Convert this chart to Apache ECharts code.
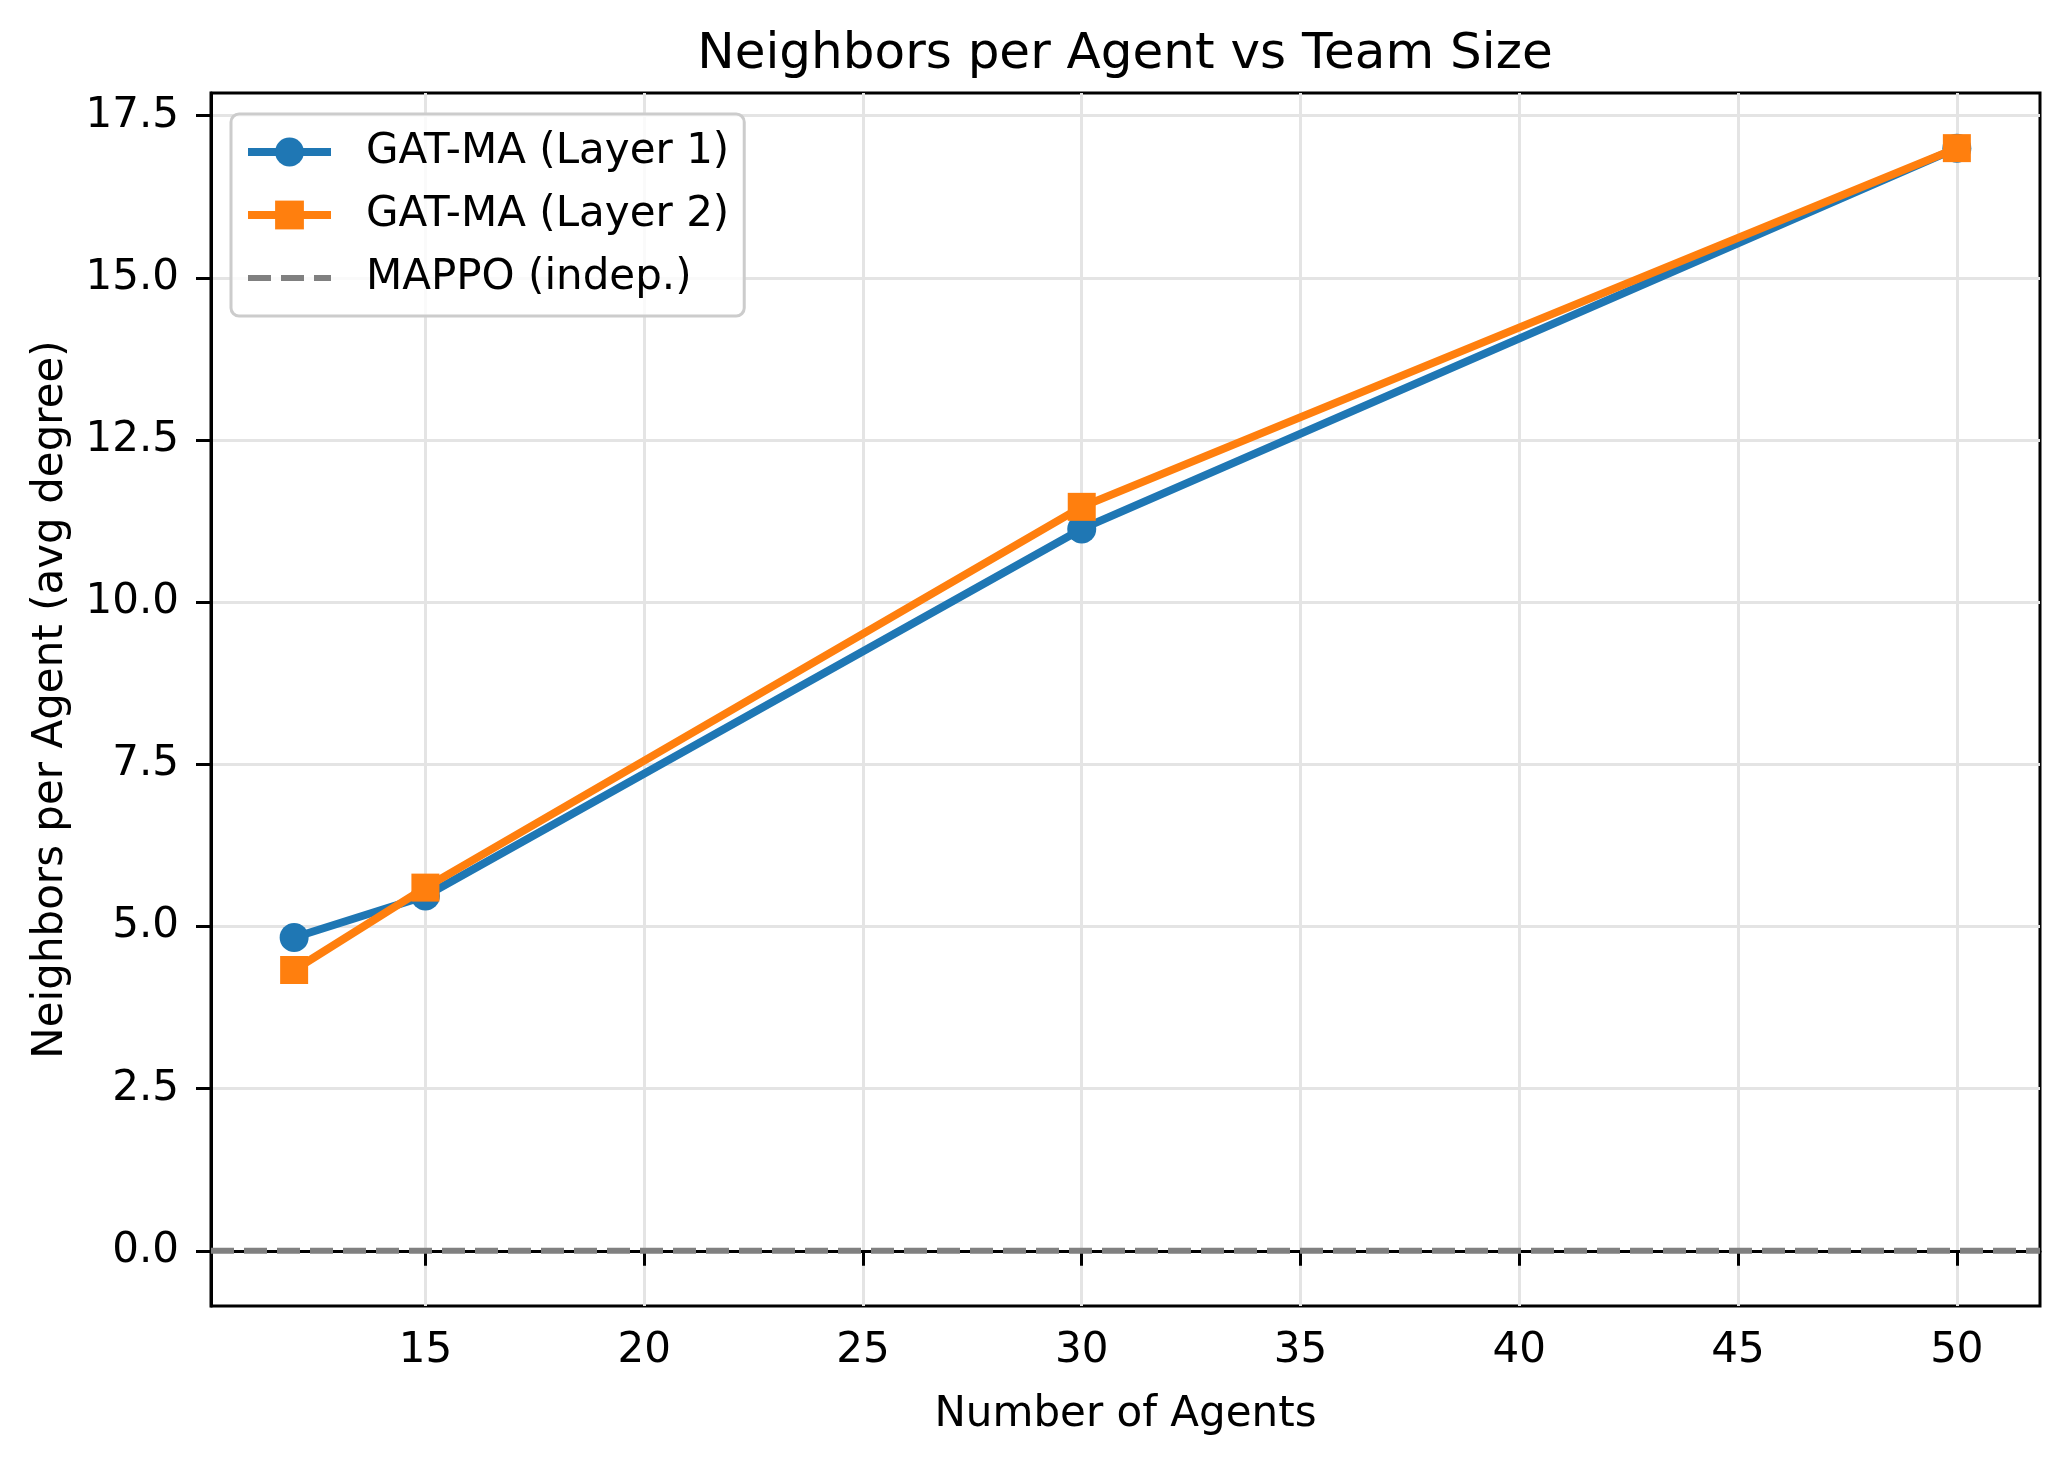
<!DOCTYPE html>
<html>
<head>
<meta charset="utf-8">
<script src="https://cdn.jsdelivr.net/npm/echarts@6/dist/echarts.min.js"></script>
<style>
  html, body { margin: 0; padding: 0; background: #fff; }
  #chart { width: 2070px; height: 1466px; }
</style>
</head>
<body>
<div id="chart"></div>
<script>
// team sizes and average degree
const agents = [12, 15, 30, 50];
const layer1 = [4.83, 5.47, 11.13, 17.0];
const layer2 = [4.33, 5.6, 11.47, 17.0];
const mappoLevel = 0;

const xTicks = [15, 20, 25, 30, 35, 40, 45, 50];
const yTicks = [0, 2.5, 5, 7.5, 10, 12.5, 15, 17.5];

// matplotlib-like 5% margins
const xMin = 12 - 0.05 * (50 - 12);
const xMax = 50 + 0.05 * (50 - 12);
const yMin = 0 - 0.05 * 17;
const yMax = 17 + 0.05 * 17;

const font = 'DejaVu Sans';

const chart = echarts.init(document.getElementById('chart'), null, { renderer: 'canvas', devicePixelRatio: 1 });

chart.setOption({
  animation: false,
  backgroundColor: '#fff',
  title: {
    text: 'Neighbors per Agent vs Team Size',
    left: 1125,
    top: 30,
    padding: 0,
    textAlign: 'center',
    textStyle: { fontFamily: font, fontSize: 50, fontWeight: 'normal', color: '#000' }
  },
  grid: {
    left: 211,
    right: 30,
    top: 93,
    bottom: 160,
    show: true,
    borderColor: '#000',
    borderWidth: 3,
    containLabel: false
  },
  legend: {
    orient: 'vertical',
    left: 231,
    top: 114,
    padding: [17, 15, 17, 13],
    itemGap: 21,
    itemWidth: 83,
    itemHeight: 36,
    backgroundColor: 'rgba(255,255,255,0.8)',
    borderColor: '#cccccc',
    borderWidth: 3,
    borderRadius: 8,
    textStyle: { fontFamily: font, fontSize: 42, color: '#000', padding: [0, 0, 0, 30] },
    data: [
      { name: 'GAT-MA (Layer 1)', lineStyle: { width: 8 } },
      { name: 'GAT-MA (Layer 2)', lineStyle: { width: 8 } },
      { name: 'MAPPO (indep.)', lineStyle: { width: 6, type: [23, 10] }, itemStyle: { opacity: 0 } }
    ]
  },
  xAxis: {
    type: 'value',
    min: xMin,
    max: xMax,
    name: 'Number of Agents',
    nameLocation: 'middle',
    nameGap: 88,
    nameTextStyle: { fontFamily: font, fontSize: 42, color: '#000' },
    axisLine: { show: true, lineStyle: { color: '#000', width: 3 } },
    axisTick: { show: true, length: 15, customValues: xTicks, lineStyle: { color: '#000', width: 3 } },
    axisLabel: { customValues: xTicks, margin: 24, fontFamily: font, fontSize: 42, color: '#000' },
    splitLine: { show: true, lineStyle: { color: '#e4e4e4', width: 3 } }
  },
  yAxis: {
    type: 'value',
    min: yMin,
    max: yMax,
    name: 'Neighbors per Agent (avg degree)',
    nameLocation: 'middle',
    nameGap: 139,
    nameTextStyle: { fontFamily: font, fontSize: 42, color: '#000' },
    axisLine: { show: true, lineStyle: { color: '#000', width: 3 } },
    axisTick: { show: true, length: 15, customValues: yTicks, lineStyle: { color: '#000', width: 3 } },
    axisLabel: {
      customValues: yTicks, margin: 32, fontFamily: font, fontSize: 42, color: '#000',
      formatter: v => v.toFixed(1)
    },
    splitLine: { show: true, lineStyle: { color: '#e4e4e4', width: 3 } }
  },
  series: [
    {
      name: 'GAT-MA (Layer 1)',
      type: 'line',
      data: agents.map((a, i) => [a, layer1[i]]),
      symbol: 'circle',
      symbolSize: 29,
      itemStyle: { color: '#1f77b4' },
      lineStyle: { color: '#1f77b4', width: 8 },
      z: 2
    },
    {
      name: 'GAT-MA (Layer 2)',
      type: 'line',
      data: agents.map((a, i) => [a, layer2[i]]),
      symbol: 'rect',
      symbolSize: 28,
      itemStyle: { color: '#ff7f0e' },
      lineStyle: { color: '#ff7f0e', width: 8 },
      z: 3
    },
    {
      name: 'MAPPO (indep.)',
      type: 'line',
      data: [[xMin, mappoLevel], [xMax, mappoLevel]],
      symbol: 'none',
      itemStyle: { color: '#808080' },
      lineStyle: { color: '#808080', width: 6, type: [23, 10] },
      z: 4
    }
  ]
});
</script>
</body>
</html>
